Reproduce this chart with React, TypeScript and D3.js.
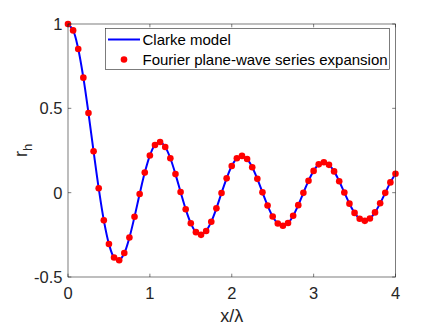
import React from "react";
import * as d3 from "d3";

const xValues = [
  0, 0.0625, 0.125, 0.1875, 0.25, 0.3125, 0.375, 0.4375, 0.5, 0.5625, 0.625, 0.6875, 0.75, 0.8125, 0.875, 0.9375,
  1, 1.0625, 1.125, 1.1875, 1.25, 1.3125, 1.375, 1.4375, 1.5, 1.5625, 1.625, 1.6875, 1.75, 1.8125, 1.875, 1.9375,
  2, 2.0625, 2.125, 2.1875, 2.25, 2.3125, 2.375, 2.4375, 2.5, 2.5625, 2.625, 2.6875, 2.75, 2.8125, 2.875, 2.9375,
  3, 3.0625, 3.125, 3.1875, 3.25, 3.3125, 3.375, 3.4375, 3.5, 3.5625, 3.625, 3.6875, 3.75, 3.8125, 3.875, 3.9375,
  4,
];

const clarkeValues = [
  1.0, 0.962, 0.852, 0.682, 0.472, 0.245, 0.026, -0.164, -0.304, -0.384, -0.401, -0.358, -0.266, -0.143, -0.008, 0.119,
  0.220, 0.283, 0.300, 0.271, 0.204, 0.110, 0.004, -0.098, -0.181, -0.234, -0.250, -0.227, -0.172, -0.093, -0.002, 0.085,
  0.158, 0.204, 0.218, 0.200, 0.151, 0.082, 0.002, -0.076, -0.141, -0.183, -0.196, -0.180, -0.137, -0.074, -0.001, 0.070,
  0.129, 0.168, 0.180, 0.165, 0.126, 0.068, 0.001, -0.065, -0.120, -0.155, -0.167, -0.153, -0.117, -0.063, -0.001, 0.061,
  0.112,
];

const fourierValues = clarkeValues.slice();

const xTicks = [0, 1, 2, 3, 4];
const yTicks = [-0.5, 0, 0.5, 1];
const legendLabels = ["Clarke model", "Fourier plane-wave series expansion"];

const W = 436;
const H = 327;
const left = 68;
const right = 395.5;
const top = 24;
const bottom = 277;

export default function App() {
  const x = d3.scaleLinear().domain([0, 4]).range([left, right]);
  const y = d3.scaleLinear().domain([-0.5, 1]).range([bottom, top]);
  const pts = xValues.map((v, i) => [v, clarkeValues[i]] as [number, number]);
  const line = d3
    .line<[number, number]>()
    .x((d) => x(d[0]))
    .y((d) => y(d[1]))
    .curve(d3.curveCatmullRom.alpha(0.5));
  const axisColor = "#262626";
  const font = "'Liberation Sans', Arial, Helvetica, sans-serif";
  const tl = 3.3;
  return (
    <svg width={W} height={H} style={{ position: "absolute", left: 0, top: 0 }} fontFamily={font}>
      <rect x={0} y={0} width={W} height={H} fill="#fff" />
      <path d={line(pts) || ""} fill="none" stroke="#0000ff" strokeWidth={2} />
      {xValues.map((v, i) => (
        <circle key={i} cx={x(v)} cy={y(fourierValues[i])} r={3.3} fill="#ff0000" />
      ))}
      <rect x={left} y={top} width={right - left} height={bottom - top} fill="none" stroke={axisColor} strokeWidth={0.6} />
      {xTicks.map((t) => (
        <g key={"x" + t}>
          <line x1={x(t)} x2={x(t)} y1={bottom} y2={bottom - tl} stroke={axisColor} strokeWidth={0.6} />
          <line x1={x(t)} x2={x(t)} y1={top} y2={top + tl} stroke={axisColor} strokeWidth={0.6} />
          <text x={x(t)} y={bottom + 22} textAnchor="middle" fontSize={16.5} fill={axisColor}>
            {t}
          </text>
        </g>
      ))}
      {yTicks.map((t) => (
        <g key={"y" + t}>
          <line x1={left} x2={left + tl} y1={y(t)} y2={y(t)} stroke={axisColor} strokeWidth={0.6} />
          <line x1={right} x2={right - tl} y1={y(t)} y2={y(t)} stroke={axisColor} strokeWidth={0.6} />
          <text x={left - 5.5} y={y(t) + 6} textAnchor="end" fontSize={16.5} fill={axisColor}>
            {t}
          </text>
        </g>
      ))}
      <text x={(left + right) / 2} y={322} textAnchor="middle" fontSize={18} fill={axisColor}>
        x/λ
      </text>
      <text transform={`translate(27,${(top + bottom) / 2}) rotate(-90)`} textAnchor="middle" fontSize={18} fill={axisColor}>
        r<tspan fontSize={13} dy={5}>h</tspan>
      </text>
      <rect x={105.5} y={28.5} width={284} height={41} fill="#fff" stroke={axisColor} strokeWidth={0.6} />
      <line x1={108} x2={140} y1={39.5} y2={39.5} stroke="#0000ff" strokeWidth={2} />
      <text x={142.5} y={45} fontSize={15} fill="#000">
        {legendLabels[0]}
      </text>
      <circle cx={124} cy={59.5} r={3.3} fill="#ff0000" />
      <text x={142.5} y={65} fontSize={15} fill="#000">
        {legendLabels[1]}
      </text>
    </svg>
  );
}
